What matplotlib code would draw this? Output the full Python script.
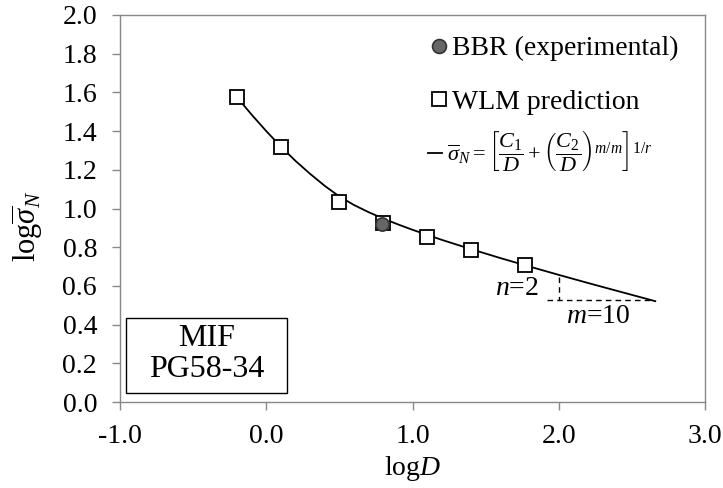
import matplotlib.pyplot as plt
from matplotlib.lines import Line2D
from matplotlib.patches import Rectangle

plt.rcParams['font.family'] = ['Liberation Serif', 'DejaVu Serif']
plt.rcParams['mathtext.fontset'] = 'custom'
plt.rcParams['mathtext.rm'] = 'Liberation Serif'
plt.rcParams['mathtext.it'] = 'Liberation Serif:italic'
plt.rcParams['mathtext.bf'] = 'Liberation Serif:bold'

# data
wlm_logd = [-0.2, 0.1, 0.5, 0.8, 1.1, 1.4, 1.77]
wlm_logs = [1.575, 1.32, 1.035, 0.925, 0.853, 0.785, 0.708]

bbr_logd = [0.79]
bbr_logs = [0.918]

fit_logd = [-0.2, -0.1, 0.0, 0.1, 0.2, 0.3, 0.4, 0.5, 0.6, 0.7, 0.8, 0.9, 1.0,
            1.2, 1.4, 1.6, 1.8, 2.0, 2.2, 2.4, 2.66]
fit_logs = [1.575, 1.485, 1.400, 1.320, 1.246, 1.179, 1.117, 1.062, 1.018, 0.981, 0.948, 0.918, 0.890,
            0.838, 0.790, 0.744, 0.700, 0.657, 0.615, 0.574, 0.521]

# slope triangle (annotation)
tri_vx = [2.0, 2.0]
tri_vy = [0.646, 0.527]
tri_hx = [1.92, 2.63]
tri_hy = [0.527, 0.527]

fig = plt.figure(figsize=(7.23, 4.88), dpi=100)
ax = fig.add_axes([120 / 723, 1 - 402 / 488, 585 / 723, 387 / 488])

ax.plot(fit_logd, fit_logs, '-', color='black', lw=1.3, zorder=2)
ax.plot(wlm_logd, wlm_logs, 's', ms=10, mfc='white', mec='black', mew=1.3, zorder=3)
ax.plot(bbr_logd, bbr_logs, 'o', ms=9.5, mfc='#666666', mec='#333333', mew=1.2, zorder=4)

ax.plot(tri_vx, tri_vy, '--', color='black', lw=1.0, dashes=(4, 3))
ax.plot(tri_hx, tri_hy, '--', color='black', lw=1.0, dashes=(4, 3))
ax.text(1.865, 0.585, r'$n$=2', fontsize=20, ha='right', va='center')
ax.text(2.27, 0.44, r'$m$=10', fontsize=20, ha='center', va='center')

ax.set_xlim(-1.0, 3.0)
ax.set_ylim(0.0, 2.0)
ax.set_xticks([-1.0, 0.0, 1.0, 2.0, 3.0])
ax.set_yticks([i / 10 for i in range(0, 21, 2)])
ax.set_xticklabels(['-1.0', '0.0', '1.0', '2.0', '3.0'])
ax.set_yticklabels(['%.1f' % (i / 10) for i in range(0, 21, 2)])
ax.tick_params(direction='out', length=5.5, width=1, color='#888888', labelsize=20)
ax.tick_params(axis='x', pad=10)
ax.tick_params(axis='y', pad=11)
for s in ax.spines.values():
    s.set_color('#888888')
    s.set_linewidth(1)

ax.set_xlabel(r'log$D$', fontsize=20, labelpad=4)
ax.set_ylabel(r'log$\overline{\sigma}_N$', fontsize=22)
ax.yaxis.set_label_coords(-0.129, 0.455)

# sample box
box = Rectangle((0.010, 0.023), 0.275, 0.194, transform=ax.transAxes,
                facecolor='white', edgecolor='black', lw=1.0, zorder=5)
ax.add_patch(box)
ax.text(0.148, 0.165, 'MIF', transform=ax.transAxes, fontsize=23, ha='center', va='center', zorder=6)
ax.text(0.148, 0.083, 'PG58-34', transform=ax.transAxes, fontsize=23, ha='center', va='center', zorder=6)

handles = [
    Line2D([], [], ls='none', marker='o', ms=10, mfc='#666666', mec='#333333', mew=1.2),
    Line2D([], [], ls='none', marker='s', ms=9.5, mfc='white', mec='black', mew=1.3),
]
leg1 = ax.legend(handles, ['BBR (experimental)', 'WLM prediction'], loc='upper left',
                 bbox_to_anchor=(0.529, 0.946), frameon=False, fontsize=20,
                 handlelength=0.7, handletextpad=0.1, labelspacing=1.0,
                 borderpad=0, borderaxespad=0)
ax.add_artist(leg1)

formula = r'$\overline{\sigma}_N=\left[\dfrac{C_1}{D}+\left(\dfrac{C_2}{D}\right)^{m/m}\right]^{1/r}$'
leg2 = ax.legend([Line2D([], [], color='black', lw=1.3)], [formula], loc='center left',
                 bbox_to_anchor=(0.526, 0.648), frameon=False, fontsize=16,
                 handlelength=0.65, handletextpad=0.2, borderpad=0, borderaxespad=0)

fig.savefig('out.png', dpi=100)
